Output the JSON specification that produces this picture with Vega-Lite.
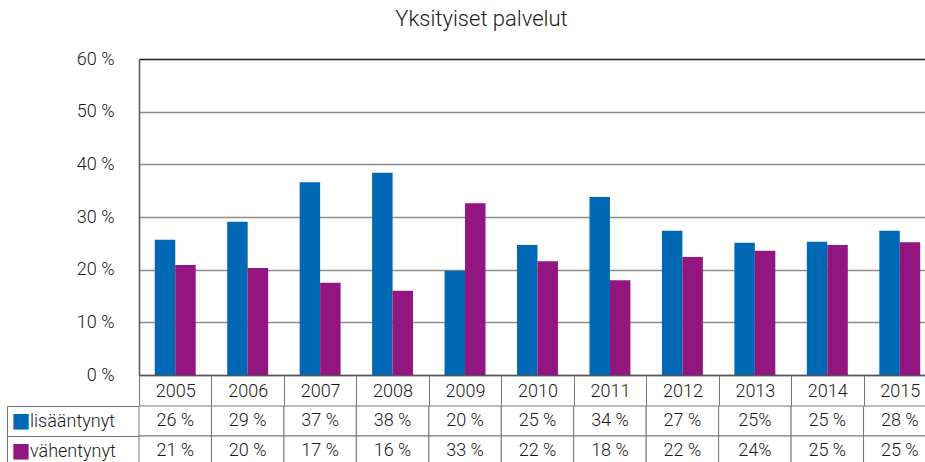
{
  "$schema": "https://vega.github.io/schema/vega-lite/v6.json",
  "padding": {"left": 6, "top": 7, "right": 0, "bottom": 0},
  "background": "white",
  "bounds": "flush",
  "title": {"text": "Yksityiset palvelut", "fontSize": 22, "fontWeight": 300, "font": "Roboto", "color": "#1a1a1a", "anchor": "middle", "offset": 19.5, "dx": 10},
  "datasets": {
    "bars": [
      {"year": "2005", "series": "lisääntynyt", "value": 25.7, "label": "26 %"},
      {"year": "2005", "series": "vähentynyt", "value": 20.9, "label": "21 %"},
      {"year": "2006", "series": "lisääntynyt", "value": 29.1, "label": "29 %"},
      {"year": "2006", "series": "vähentynyt", "value": 20.3, "label": "20 %"},
      {"year": "2007", "series": "lisääntynyt", "value": 36.6, "label": "37 %"},
      {"year": "2007", "series": "vähentynyt", "value": 17.5, "label": "17 %"},
      {"year": "2008", "series": "lisääntynyt", "value": 38.4, "label": "38 %"},
      {"year": "2008", "series": "vähentynyt", "value": 16.0, "label": "16 %"},
      {"year": "2009", "series": "lisääntynyt", "value": 19.8, "label": "20 %"},
      {"year": "2009", "series": "vähentynyt", "value": 32.6, "label": "33 %"},
      {"year": "2010", "series": "lisääntynyt", "value": 24.7, "label": "25 %"},
      {"year": "2010", "series": "vähentynyt", "value": 21.6, "label": "22 %"},
      {"year": "2011", "series": "lisääntynyt", "value": 33.8, "label": "34 %"},
      {"year": "2011", "series": "vähentynyt", "value": 18.0, "label": "18 %"},
      {"year": "2012", "series": "lisääntynyt", "value": 27.4, "label": "27 %"},
      {"year": "2012", "series": "vähentynyt", "value": 22.4, "label": "22 %"},
      {"year": "2013", "series": "lisääntynyt", "value": 25.1, "label": "25%"},
      {"year": "2013", "series": "vähentynyt", "value": 23.6, "label": "24%"},
      {"year": "2014", "series": "lisääntynyt", "value": 25.3, "label": "25 %"},
      {"year": "2014", "series": "vähentynyt", "value": 24.7, "label": "25 %"},
      {"year": "2015", "series": "lisääntynyt", "value": 27.4, "label": "28 %"},
      {"year": "2015", "series": "vähentynyt", "value": 25.2, "label": "25 %"}
    ]
  },
  "vconcat": [
    {
      "width": 797,
      "height": 316,
      "data": {"name": "bars"},
      "mark": {"type": "bar"},
      "encoding": {
        "x": {
          "field": "year", "type": "nominal",
          "scale": {"paddingInner": 0, "paddingOuter": 0},
          "axis": {
            "title": null, "orient": "bottom", "labelAngle": 0,
            "domain": true, "domainColor": "#555555", "domainWidth": 1.5,
            "ticks": true, "tickBand": "extent", "tickSize": 31, "tickColor": "#777777", "tickWidth": 1,
            "grid": false,
            "labelBaseline": "middle", "labelPadding": -15,
            "labelFontSize": 18, "labelFont": "Roboto", "labelFontWeight": 300, "labelColor": "#1a1a1a"
          }
        },
        "xOffset": {
          "field": "series", "type": "nominal", "sort": ["lisääntynyt", "vähentynyt"],
          "scale": {"paddingInner": 0, "paddingOuter": 0.77}
        },
        "y": {
          "field": "value", "type": "quantitative",
          "scale": {"domain": [0, 60], "nice": false},
          "axis": {
            "title": null, "values": [0, 10, 20, 30, 40, 50, 60],
            "labelExpr": "datum.value + ' %'",
            "grid": true,
            "gridColor": {"condition": {"test": "datum.value === 60", "value": "#1a1a1a"}, "value": "#8c8c8c"},
            "gridWidth": 1.5,
            "domain": true, "domainColor": "#555555", "domainWidth": 1.5,
            "ticks": false, "labelPadding": 25,
            "labelFontSize": 18, "labelFont": "Roboto", "labelFontWeight": 300, "labelColor": "#1a1a1a"
          }
        },
        "color": {
          "field": "series", "type": "nominal",
          "scale": {"domain": ["lisääntynyt", "vähentynyt"], "range": ["#0068b4", "#93157f"]},
          "legend": null
        }
      }
    },
    {
      "width": 797,
      "height": 60,
      "data": {"name": "bars"},
      "layer": [
        {
          "mark": {"type": "rect", "fill": "white", "stroke": "#777777", "strokeWidth": 1},
          "encoding": {
            "x": {"field": "year", "type": "nominal", "scale": {"paddingInner": 0, "paddingOuter": 0}, "axis": null},
            "y": {
              "field": "series", "type": "nominal", "sort": ["lisääntynyt", "vähentynyt"],
              "scale": {"paddingInner": 0, "paddingOuter": 0},
              "axis": {
                "orient": "left", "title": null, "domain": false,
                "ticks": true, "tickSize": 132, "tickBand": "extent", "tickColor": "#777777", "tickWidth": 1,
                "labelAlign": "left", "labelBaseline": "middle", "labelPadding": -22.5,
                "labelFontSize": 18, "labelFont": "Roboto", "labelFontWeight": 300, "labelColor": "#1a1a1a"
              }
            }
          }
        },
        {
          "mark": {"type": "text", "fontSize": 18, "font": "Roboto", "fontWeight": 300, "color": "#1a1a1a"},
          "encoding": {
            "x": {"field": "year", "type": "nominal", "scale": {"paddingInner": 0, "paddingOuter": 0}, "axis": null},
            "y": {
              "field": "series", "type": "nominal", "sort": ["lisääntynyt", "vähentynyt"],
              "scale": {"paddingInner": 0, "paddingOuter": 0},
              "axis": {
                "orient": "left", "offset": 132, "title": null,
                "domain": true, "domainColor": "#777777", "domainWidth": 1,
                "ticks": false, "tickSize": 0,
                "labelExpr": "'■'",
                "labelColor": {"condition": {"test": "datum.value === 'lisääntynyt'", "value": "#0068b4"}, "value": "#93157f"},
                "labelAlign": "center", "labelBaseline": "middle", "labelPadding": -13.5,
                "labelFontSize": 20, "labelFont": "DejaVu Sans"
              }
            },
            "text": {"field": "label"}
          }
        }
      ],
      "resolve": {"axis": {"y": "independent"}}
    }
  ],
  "spacing": 31,
  "config": {"view": {"stroke": null}}
}
